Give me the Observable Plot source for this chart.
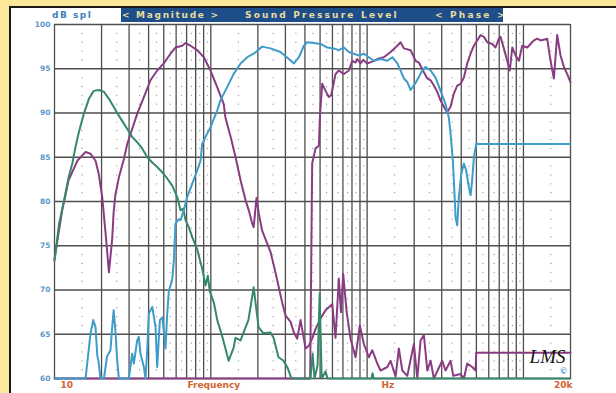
<!DOCTYPE html>
<html>
<head>
<meta charset="utf-8">
<script src="https://cdn.jsdelivr.net/npm/d3@7"></script>
<script src="https://cdn.jsdelivr.net/npm/@observablehq/plot@0.6"></script>
<style>
html,body{margin:0;padding:0;overflow:hidden;background:#fff;}
body{width:616px;height:393px;position:relative;font-family:"DejaVu Sans",sans-serif;}
#ytop{position:absolute;left:0;top:0;width:100%;height:6px;background:#fce79a;}
#yleft{position:absolute;left:0;top:0;width:9px;height:100%;background:#fce79a;}
#btop{position:absolute;left:9px;top:6px;width:100%;height:2px;background:#1a1a1a;}
#bleft{position:absolute;left:9px;top:6px;width:2px;height:100%;background:#1a1a1a;}
#chart{position:absolute;left:0;top:0;width:616px;height:393px;}
#bar{position:absolute;left:121px;top:8px;width:382px;height:14px;background:#1d4e8a;}
.bt{position:absolute;top:8px;height:14px;line-height:14px;font-size:9px;font-weight:bold;letter-spacing:2.2px;color:#e9dc9e;white-space:pre;}
#dbspl{position:absolute;left:52px;top:8px;height:14px;line-height:14px;font-size:9px;font-weight:bold;letter-spacing:1.5px;color:#3d80bd;}
g[aria-label="ylabels"] text{letter-spacing:2px;}
g[aria-label="xlabels"] text{letter-spacing:2.3px;}
</style>
</head>
<body>
<div id="ytop"></div>
<div id="yleft"></div>
<div id="btop"></div>
<div id="bleft"></div>
<div id="chart"></div>
<div id="bar"></div>
<div id="dbspl">dB spl</div>
<div class="bt" style="left:122px;letter-spacing:1.7px">&lt; Magnitude &gt;</div>
<div class="bt" style="left:245px">Sound Pressure Level</div>
<div class="bt" style="left:435px">&lt; Phase &gt;</div>
<script>
// ---- data (frequency in Hz, level in dB SPL) ----
const yTicks = [60, 65, 70, 75, 80, 85, 90, 95, 100];
const xMajor = [10,20,30,40,50,60,70,80,90,100,200,300,400,500,600,700,800,900,1000,2000,3000,4000,5000,6000,7000,8000,9000,10000,20000];
const xHalf = [15,25,35,45,55,65,75,85,95,150,250,350,450,550,650,750,850,950,1500,2500,3500,4500,5500,6500,7500,8500,9500,15000];
const xLabels = ["10", "Frequency", "Hz", "20k"];

const greenCurve = [[10,73.3],[10.7,77.5],[11.5,80.1],[12.3,82.7],[13.0,84.3],[13.6,86.1],[14.3,87.8],[15.4,89.9],[16.6,91.6],[17.8,92.5],[19.2,92.6],[20.7,92.4],[22.3,91.6],[23.9,90.7],[25.8,89.7],[27.8,88.8],[29.2,88.2],[31.4,87.3],[33.8,86.7],[36.4,86.0],[39.2,85.0],[42.2,84.4],[45.4,83.9],[48.9,83.3],[52.6,82.6],[56.6,81.8],[61,80.5],[64,79.0],[66.6,79.2],[68.9,77.9],[72.3,77.1],[76,76.0],[81.8,74.6],[88.1,72.4],[92.5,70.5],[95.7,71.6],[98.6,69.8],[104.5,68.6],[110,66.6],[119,64.6],[130,62.0],[140,63.5],[144,64.6],[155,64.3],[167,65.8],[174,66.6],[188,70.3],[202,65.8],[217,65.1],[241,65.2],[252,64.6],[271,62.4],[292,62.0],[310,61.2],[328,60],[434,60],[448,62.8],[461,60],[482,61.5],[497,69.6],[512,60],[542,60.8],[558,60],[1067,60],[1083,60.6],[1100,60],[20000,60]];

const purpleLow = [[10,73.5],[11.2,79.0],[12.3,82.4],[14.0,84.6],[15.8,85.6],[17.0,85.4],[18.3,84.6],[19.2,83.1],[20.2,80.5],[21.2,76.5],[22.3,72.0],[23.4,75.8],[23.9,78.8],[24.5,80.7],[25.8,82.7],[27.8,84.8],[29.2,86.5],[30.6,87.6],[33.8,89.9],[37.3,91.8],[41.1,93.7],[45.4,94.8],[50,95.6],[55.2,96.7],[59.4,97.4],[65.6,97.6],[68.9,97.9],[74.1,97.6],[81.8,97.1],[90.2,96.3],[99.5,94.8],[110,92.9],[121,91.0],[124,89.5],[134,87.3],[144,85.0],[155,82.4],[167,80.1],[175,79.0],[184,77.5],[188,77.1],[196,80.4],[203,78.6],[213,76.7],[230,75.2],[241,74.3],[259,72.0],[286,68.6],[301,67.1],[324,66.4],[340,65.2],[357,64.5],[375,66.6],[404,63.4],[424,63.7],[445,64.5],[468,65.6],[504,66.8],[542,67.7],[598,68.4],[628,64.6],[659,71.3],[680,67.5],[703,71.8],[740,67.5],[783,64.5],[843,62.4],[898,66.0],[953,63.9],[1026,62.4],[1078,63.2],[1161,61.7],[1219,60.9],[1346,61.3],[1413,62.0],[1521,60.2],[1596,63.4],[1679,60.9],[1807,60.3],[1991,63.9],[2094,60.0],[2198,64.3],[2307,64.9],[2427,60.9],[2547,62.0],[2673,60.0],[3022,62.0],[3175,60.9],[3418,62.0],[3556,60.3],[3962,60.5],[4159,60],[4368,61.7],[4699,61.3],[4940,60.9],[4990,62.9],[20000,62.9]];

const purpleHigh = [[10,60],[432,60],[445,84.3],[468,86.0],[491,86.3],[500,89.9],[516,93.3],[542,92.5],[569,91.8],[589,92.0],[628,94.4],[659,94.8],[710,94.4],[764,94.8],[803,95.9],[843,95.7],[864,96.1],[907,95.6],[944,96.0],[1002,95.6],[1078,95.8],[1161,96.1],[1279,96.3],[1413,96.9],[1560,97.6],[1637,98.0],[1718,97.3],[1897,97.1],[2042,95.9],[2143,95.7],[2307,94.6],[2427,93.9],[2547,93.7],[2673,93.1],[2808,92.4],[2951,91.4],[3097,90.7],[3254,90.1],[3418,90.7],[3588,92.2],[3770,93.1],[3962,93.3],[4159,94.0],[4368,95.6],[4589,96.7],[4819,97.6],[5062,98.2],[5316,98.8],[5585,98.6],[5866,98.0],[6313,97.8],[6631,97.4],[6966,98.4],[7134,98.6],[7494,97.3],[7871,95.9],[8186,94.8],[8478,97.4],[8904,96.5],[9351,95.9],[9822,97.6],[10570,97.4],[11100,97.8],[11660,98.2],[12250,98.4],[12860,98.2],[14190,98.4],[14900,95.9],[15660,93.9],[16440,98.8],[17270,96.5],[18150,95.2],[19060,94.4],[20000,93.5]];

const blueCurve = [[10,60],[15.8,60],[17.0,65.1],[17.7,66.6],[18.3,65.8],[18.8,62.5],[19.1,62.0],[19.7,60],[20.7,60],[21.7,62.5],[22.8,63.2],[23.4,65.8],[23.9,67.7],[24.5,65.5],[25.2,62.0],[25.8,60],[29.9,60],[31.4,62.8],[32.2,61.7],[33.8,64.3],[34.6,64.7],[35.5,62.8],[37.3,61.3],[38.2,60],[39.2,63.2],[40.1,67.3],[42.2,68.1],[44.3,65.8],[45.4,61.3],[47.2,66.6],[48.9,66.9],[50.0,65.4],[51.3,63.4],[52.6,67.3],[53.9,69.9],[56.6,71.1],[58.0,73.3],[59.4,77.5],[62.4,78.0],[64.0,77.9],[67.2,79.0],[70.6,80.5],[76.0,82.0],[81.8,83.5],[85.9,84.6],[88.1,86.5],[92.5,87.3],[99.5,88.4],[110,90.3],[115,91.4],[127,92.9],[140,94.4],[155,95.6],[171,96.3],[188,96.7],[213,97.5],[241,97.3],[279,96.9],[316,96.1],[340,95.6],[366,96.3],[394,97.6],[414,98.0],[456,97.9],[504,97.8],[556,97.4],[612,97.3],[659,97.1],[710,97.4],[764,96.9],[822,96.7],[885,96.5],[953,96.7],[1026,96.3],[1104,95.9],[1219,96.1],[1346,95.9],[1449,96.3],[1560,95.6],[1637,94.8],[1718,93.9],[1807,93.5],[1897,92.6],[2042,93.4],[2252,94.8],[2365,95.2],[2547,94.8],[2740,94.0],[2951,92.5],[3175,91.0],[3330,89.5],[3418,87.7],[3535,84.6],[3588,82.4],[3680,78.2],[3770,77.3],[3862,80.5],[4000,83.1],[4159,84.3],[4303,83.5],[4477,81.6],[4589,80.7],[4699,82.4],[4819,85.0],[4990,86.5],[20000,86.5]];

// ---- grid helpers built from the tick arrays ----
const dbRows = d3.range(61, 100).filter(v => v % 5 !== 0);
const gridDots = xHalf.flatMap(f => dbRows.map(v => ({f, v})));

const fx = d => d[0], fy = d => d[1];
const lw = 2;
const lab = {fill: "#d1642f", fontSize: 9, fontWeight: "bold", ariaLabel: "xlabels", dy: 9};

const chart = Plot.plot({
  width: 616, height: 393,
  marginLeft: 54, marginRight: 46, marginTop: 24, marginBottom: 15,
  style: {background: "transparent", overflow: "visible", fontFamily: "DejaVu Sans"},
  x: {type: "log", domain: [10, 20000], axis: null},
  y: {domain: [60, 100], axis: null},
  marks: [
    Plot.dot(gridDots, {x: "f", y: "v", r: 0.6, fill: "#888"}),
    Plot.ruleX(xMajor, {stroke: "#4e4e4e", strokeWidth: 1.3}),
    Plot.ruleY(yTicks, {stroke: "#4e4e4e", strokeWidth: 1.5}),
    Plot.line(purpleHigh, {x: fx, y: fy, stroke: "#8a3c82", strokeWidth: lw}),
    Plot.line(purpleLow, {x: fx, y: fy, stroke: "#8a3c82", strokeWidth: lw}),
    Plot.line(greenCurve, {x: fx, y: fy, stroke: "#35886a", strokeWidth: lw}),
    Plot.line(blueCurve, {x: fx, y: fy, stroke: "#3e9cc9", strokeWidth: lw}),
    Plot.text(yTicks, {y: d => d, frameAnchor: "left", dx: -4, textAnchor: "end", text: d => String(d), fill: "#5b97c9", fontSize: 7.5, fontWeight: "bold", ariaLabel: "ylabels"}),
    Plot.text([xLabels[0]], {...lab, frameAnchor: "bottom-left", dx: 6, textAnchor: "start"}),
    Plot.text([xLabels[1]], {...lab, frameAnchor: "bottom-left", dx: 133, textAnchor: "start"}),
    Plot.text([xLabels[2]], {...lab, frameAnchor: "bottom-left", dx: 327, textAnchor: "start"}),
    Plot.text([xLabels[3]], {...lab, frameAnchor: "bottom-right", dx: 2, textAnchor: "end"}),
    Plot.text(["LMS"], {frameAnchor: "bottom-right", dx: -5, dy: -16, textAnchor: "end", fill: "#151515", fontSize: 19, fontStyle: "italic", fontFamily: "Liberation Serif"}),
    Plot.text(["©"], {frameAnchor: "bottom-right", dx: -3, dy: -5, fill: "#5aa7d6", fontSize: 8, fontWeight: "bold"})
  ]
});
document.getElementById("chart").appendChild(chart);
</script>
</body>
</html>
